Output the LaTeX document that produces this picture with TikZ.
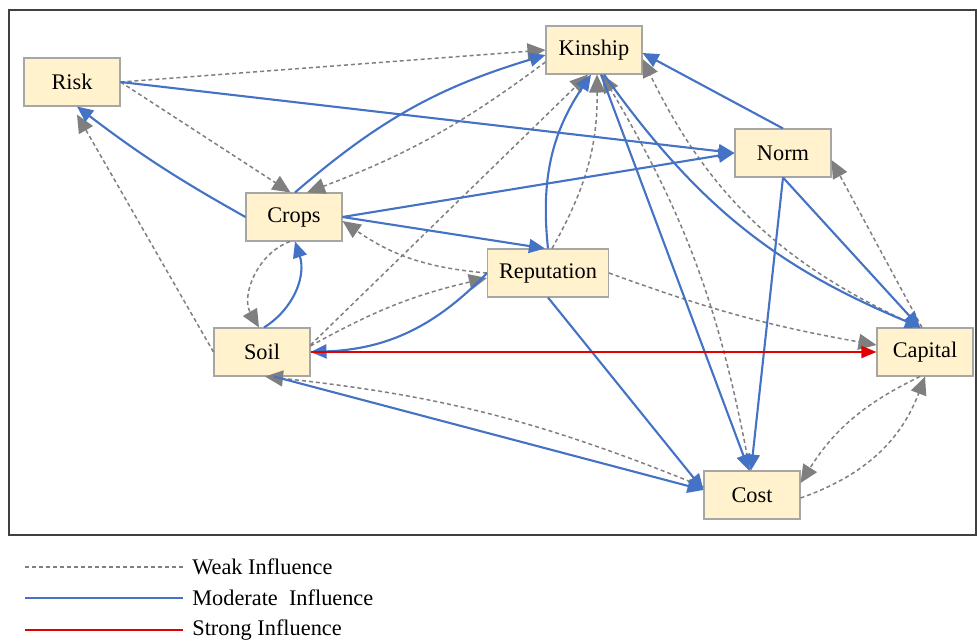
\documentclass[tikz,border=0pt]{standalone}
\usepackage{xcolor}
\usepackage{fontspec}
\setmainfont{Liberation Serif}
\usetikzlibrary{arrows.meta}
\definecolor{BoxFill}{HTML}{FFF2CC}
\definecolor{BoxLine}{HTML}{A6A6A6}
\definecolor{WeakGray}{HTML}{7F7F7F}
\definecolor{ModBlue}{HTML}{4472C4}
\definecolor{StrongRed}{HTML}{E00000}
\definecolor{FrameGray}{HTML}{404040}
\newcommand{\labelfont}{\fontsize{12.7}{15}\selectfont}
\tikzset{
  factor/.style={
    draw=BoxLine,
    fill=BoxFill,
    line width=0.6pt,
    minimum width=19.2mm,
    minimum height=9.6mm,
    inner sep=2pt,
    font=\labelfont
  },
  weakline/.style={
    draw=WeakGray,
    line width=0.85pt,
    dash pattern=on 0.8mm off 0.6mm
  },
  modline/.style={
    draw=ModBlue,
    line width=1.2pt
  },
  strongline/.style={
    draw=StrongRed,
    line width=1pt
  },
  weak/.style={
    weakline,
    -{Triangle[length=3.6mm,width=3.2mm]}
  },
  moderate/.style={
    modline,
    -{Triangle[length=3.2mm,width=2.8mm]}
  },
  strong/.style={
    strongline,
    -{Triangle[length=3mm,width=2.4mm]}
  },
  legendtext/.style={
    anchor=west,
    inner xsep=1mm,
    font=\labelfont
  }
}

\begin{document}
\begin{tikzpicture}[x=0.2mm,y=0.2mm]

\useasboundingbox (0,0) rectangle (977,-640);

% Outer frame.
\draw[FrameGray, line width=0.8pt] (9,-10) rectangle (976,-535);

% Factors.
\node[factor] (risk) at (72,-82) {Risk};
\node[factor] (kinship) at (594,-50) {Kinship};
\node[factor] (norm) at (783,-153) {Norm};
\node[factor] (crops) at (294,-217) {Crops};
\node[factor, minimum width=24.2mm] (reputation) at (548,-273) {Reputation};
\node[factor] (soil) at (262,-352) {Soil};
\node[factor] (capital) at (925,-352) {Capital};
\node[factor] (cost) at (752,-495) {Cost};

% Weak influences.
\draw[weak] (risk.east) -- (kinship.west);
\draw[weak] (risk.east) -- ([xshift=-0.7mm]crops.north);
\draw[weak] ([yshift=-2.4mm]kinship.west) to[bend left=8] ([xshift=2.6mm]crops.north);
\draw[weak] (soil.west) -- ([xshift=1mm,yshift=-1.6mm]risk.south);
\draw[weak] ([xshift=-0.8mm]crops.south) to[bend right=50] ([xshift=-0.6mm]soil.north);
\draw[weak] (reputation.west) to[bend left=15] ([yshift=-0.8mm]crops.east);
\draw[weak] ([yshift=1.2mm]soil.east) to[bend left=8] ([yshift=-1mm]reputation.west);
\draw[weak] ([yshift=1.4mm]soil.east) -- ([xshift=-1.2mm]kinship.south);
\draw[weak] ([xshift=0.8mm]reputation.north) to[bend right=15] ([xshift=0.6mm]kinship.south);
\draw[weak] ([xshift=-0.4mm]cost.north) to[bend right=10] ([xshift=1.6mm]kinship.south);
\draw[weak] ([xshift=-1mm]capital.north) to[bend left=20] ([yshift=-1.8mm]kinship.east);
\draw[weak] ([xshift=-0.6mm]capital.north) -- ([yshift=-1.4mm]norm.east);
\draw[weak] (reputation.east) to[bend right=5] ([yshift=1.4mm]capital.west);
\draw[weak] ([yshift=1.6mm]cost.west) to[bend right=8] ([xshift=0.6mm]soil.south);
\draw[weak] ([xshift=-1mm]capital.south) to[bend right=16] ([yshift=2.4mm]cost.east);
\draw[weak] ([yshift=-0.6mm]cost.east) to[bend right=25] (capital.south);

% Moderate influences.
\draw[moderate] (risk.east) -- (norm.west);
\draw[moderate] (crops.west) to[bend left=4] ([xshift=1mm]risk.south);
\draw[moderate] ([xshift=0.2mm]crops.north) to[bend left=12] ([yshift=-1mm]kinship.west);
\draw[moderate] (crops.east) -- (norm.west);
\draw[moderate] (crops.east) -- ([xshift=-0.6mm]reputation.north);
\draw[moderate] ([xshift=0.4mm]soil.north) to[bend right=38] ([xshift=0.2mm]crops.south);
\draw[moderate] (reputation.west) to[bend left=22] (soil.east);
\draw[moderate] (reputation.north) to[bend left=20] ([xshift=-0.6mm]kinship.south);
\draw[moderate] (reputation.south) -- ([yshift=1mm]cost.west);
\draw[moderate] ([xshift=1.4mm]kinship.south) -- ([xshift=-0.6mm]cost.north);
\draw[moderate] (norm.south) -- ([xshift=-0.2mm]cost.north);
\draw[moderate] (norm.north) -- ([yshift=-0.6mm]kinship.east);
\draw[moderate] (norm.south) -- ([xshift=-1mm]capital.north);
\draw[moderate] ([xshift=2mm]kinship.south) to[bend right=16] ([xshift=-0.8mm]capital.north);
\draw[moderate] ([xshift=2.4mm]soil.south) -- ([yshift=1mm]cost.west);

% Strong influence.
\draw[strong] (soil.east) -- (capital.west);

% Legend.
\coordinate (weakstart) at (25,-567);
\coordinate (modstart) at (25,-598);
\coordinate (strongstart) at (25,-630);
\node[legendtext] (weaklabel) at (187,-567) {Weak Influence};
\node[legendtext] (modlabel) at (187,-598) {Moderate~~Influence};
\node[legendtext] (stronglabel) at (187,-630) {Strong Influence};
\draw[weakline] (weakstart) -- ([xshift=-0.8mm]weaklabel.west);
\draw[modline] (modstart) -- ([xshift=-0.8mm]modlabel.west);
\draw[strongline] (strongstart) -- ([xshift=-0.8mm]stronglabel.west);

\end{tikzpicture}
\end{document}
